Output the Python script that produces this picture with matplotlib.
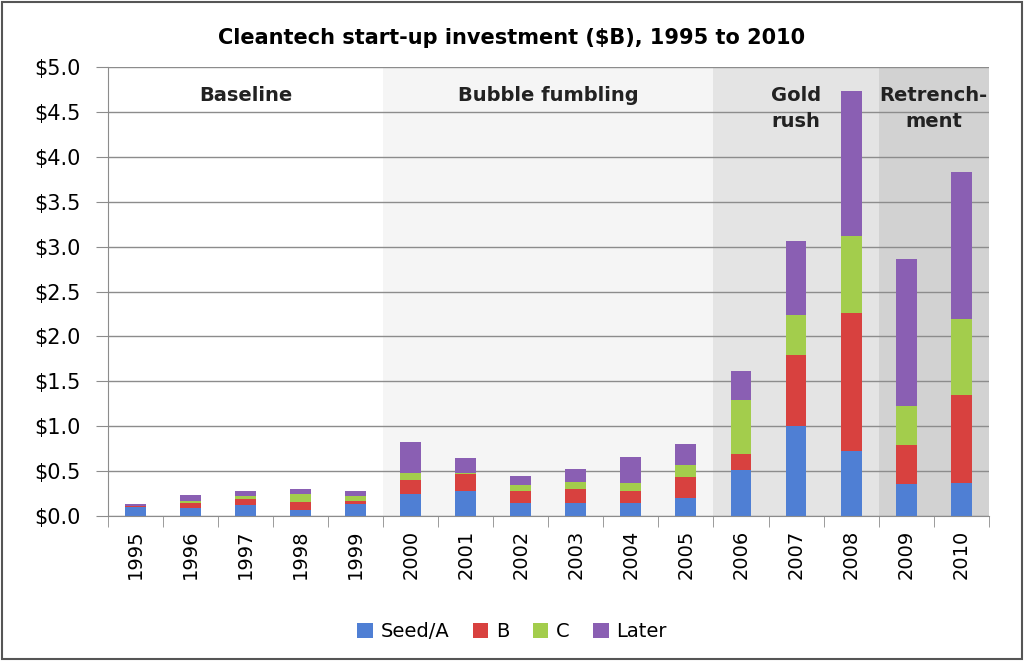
import numpy as np
import matplotlib.pyplot as plt
from matplotlib.patches import Rectangle

# Данные (млрд $)
years = ['1995', '1996', '1997', '1998', '1999', '2000', '2001', '2002',
         '2003', '2004', '2005', '2006', '2007', '2008', '2009', '2010']
seed_a = [0.10, 0.09, 0.12, 0.07, 0.13, 0.25, 0.28, 0.15, 0.14, 0.14, 0.20, 0.51, 1.00, 0.72, 0.36, 0.37]
round_b = [0.01, 0.06, 0.07, 0.09, 0.04, 0.15, 0.19, 0.13, 0.16, 0.14, 0.23, 0.18, 0.79, 1.54, 0.43, 0.98]
round_c = [0.00, 0.02, 0.03, 0.08, 0.05, 0.08, 0.01, 0.06, 0.08, 0.09, 0.14, 0.60, 0.45, 0.86, 0.43, 0.84]
later = [0.02, 0.06, 0.06, 0.06, 0.06, 0.34, 0.17, 0.11, 0.14, 0.29, 0.23, 0.32, 0.82, 1.61, 1.64, 1.64]
series_names = ['Seed/A', 'B', 'C', 'Later']

# Периоды: (подпись, первый индекс, последний индекс)
periods = [('Baseline', 0, 4), ('Bubble fumbling', 5, 10),
           ('Gold\nrush', 11, 13), ('Retrench-\nment', 14, 15)]
period_colors = ['#ffffff', '#f5f5f5', '#e4e4e4', '#d2d2d2']
colors = ['#4f7fd4', '#d8413f', '#a3cd4c', '#8a5fb3']

plt.rcParams['font.family'] = ['DejaVu Sans']

fig = plt.figure(figsize=(10.24, 6.61), dpi=100)
ax = fig.add_axes([0.1055, 0.2194, 0.860, 0.679])

x = np.arange(len(years))

# фоновые области периодов
for (name, i0, i1), pc in zip(periods, period_colors):
    ax.axvspan(i0 - 0.5, i1 + 0.5, color=pc, zorder=0, lw=0)
    ax.text((i0 + i1) / 2, 4.79, name, ha='center', va='top', fontsize=14,
            fontweight='bold', color='#222222', linespacing=1.45, zorder=3)

# сетка
ax.set_axisbelow(True)
ax.yaxis.grid(True, color='#8c8c8c', lw=1.0, zorder=1)

# столбцы
bottom = np.zeros(len(years))
for vals, name, c in zip([seed_a, round_b, round_c, later], series_names, colors):
    ax.bar(x, vals, width=0.38, bottom=bottom, color=c, label=name, zorder=2)
    bottom += np.array(vals)

ax.set_xlim(-0.5, len(years) - 0.5)
ax.set_ylim(0, 5.0)
ax.set_yticks(np.arange(0, 5.01, 0.5))
ax.set_yticklabels(['$%.1f' % v for v in np.arange(0, 5.01, 0.5)], fontsize=15)
ax.set_xticks(x)
ax.set_xticklabels(years, rotation=90, fontsize=14)
ax.tick_params(axis='x', length=0, pad=10)
ax.set_xticks(np.arange(-0.5, len(years), 1), minor=True)
ax.tick_params(axis='x', which='minor', length=8, color='#8c8c8c')
ax.tick_params(axis='y', length=9, color='#8c8c8c', pad=11)

for s in ['top', 'right']:
    ax.spines[s].set_visible(False)
ax.spines['left'].set_color('#8c8c8c')
ax.spines['bottom'].set_color('#8c8c8c')

fig.text(0.5, 0.943, 'Cleantech start-up investment ($B), 1995 to 2010',
         ha='center', va='center', fontsize=15, fontweight='bold')

fig.legend(loc='center', bbox_to_anchor=(0.5, 0.044), ncol=4, frameon=False,
           fontsize=14, handlelength=0.8, handleheight=0.8, columnspacing=1.2,
           handletextpad=0.4)

# рамка вокруг рисунка
fig.patches.append(Rectangle((0.002, 0.003), 0.996, 0.994, transform=fig.transFigure,
                             fill=False, edgecolor='#555555', lw=1.5))

fig.savefig('out.png', dpi=100)
